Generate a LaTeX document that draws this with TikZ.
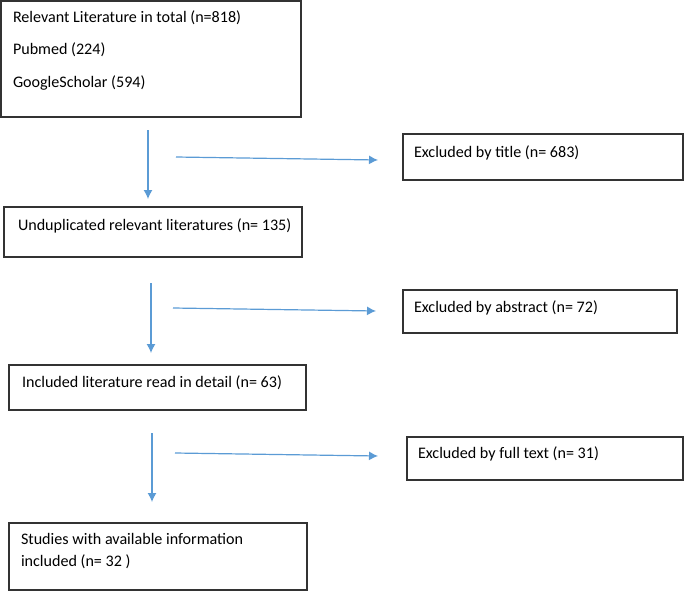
\documentclass[tikz,border=0pt]{standalone}
\usepackage{fontspec}
\setmainfont{Carlito}
\usepackage{tikz}
\usetikzlibrary{arrows.meta, positioning}
\definecolor{arblue}{RGB}{91,155,213}

\begin{document}
\begin{tikzpicture}[x=1pt, y=-1pt, >={Latex[length=9pt,width=9pt]},
        bx/.style={draw=black!80, line width=1.3pt, anchor=north west,
            inner sep=0, outer sep=0},
        tx/.style={anchor=base west, inner sep=0, outer sep=0, align=left,
            font=\fontsize{16.1}{32.5}\selectfont},
        ar/.style={arblue, line width=1.2pt, ->}]
    \useasboundingbox (0,0) rectangle (685,592);
    % boxes
    \node(tot)[bx, minimum width=300, minimum height=116] at (1,1) {};
    \node(tit)[bx, minimum width=280, minimum height=46] at (403,134) {};
    \node(dup)[bx, minimum width=298, minimum height=50] at (4,207) {};
    \node(abs)[bx, minimum width=274, minimum height=43] at (403,290) {};
    \node(inc)[bx, minimum width=297, minimum height=45] at (9,365) {};
    \node(ful)[bx, minimum width=276, minimum height=43] at (407,437) {};
    \node(stu)[bx, minimum width=298, minimum height=67] at (9,523) {};
    % texts (base = last line)
    \node(ttot)[tx] at ([shift={(12,86)}]tot.north west)
        {Relevant Literature in total (n=818)\\Pubmed (224)\\GoogleScholar (594)};
    \node(ttit)[tx] at ([shift={(11,23)}]tit.north west) {Excluded by title (n= 683)};
    \node(tdup)[tx] at ([shift={(14,23)}]dup.north west) {Unduplicated relevant literatures (n= 135)};
    \node(tabs)[tx] at ([shift={(11,22)}]abs.north west) {Excluded by abstract (n= 72)};
    \node(tinc)[tx] at ([shift={(13,22)}]inc.north west) {Included literature read in detail (n= 63)};
    \node(tful)[tx] at ([shift={(11,21)}]ful.north west) {Excluded by full text (n= 31)};
    \node(tstu)[tx, font=\fontsize{16.1}{22}\selectfont] at ([shift={(12,43)}]stu.north west)
        {Studies with available information\\included (n= 32 )};
    % arrows
    \coordinate(v1s) at (148,130);
    \coordinate(v1e) at (148,199);
    \coordinate(h1s) at (176,157);
    \coordinate(h1e) at (378,160);
    \coordinate(v2s) at (151,283);
    \coordinate(v2e) at (151,353);
    \coordinate(h2s) at (173,308);
    \coordinate(h2e) at (376,311);
    \coordinate(v3s) at (152,433);
    \coordinate(v3e) at (152,502);
    \coordinate(h3s) at (175,453);
    \coordinate(h3e) at (378,456);
    \draw[ar] (v1s) -- (v1e);
    \draw[ar] (h1s) -- (h1e);
    \draw[ar] (v2s) -- (v2e);
    \draw[ar] (h2s) -- (h2e);
    \draw[ar] (v3s) -- (v3e);
    \draw[ar] (h3s) -- (h3e);
\end{tikzpicture}
\end{document}
